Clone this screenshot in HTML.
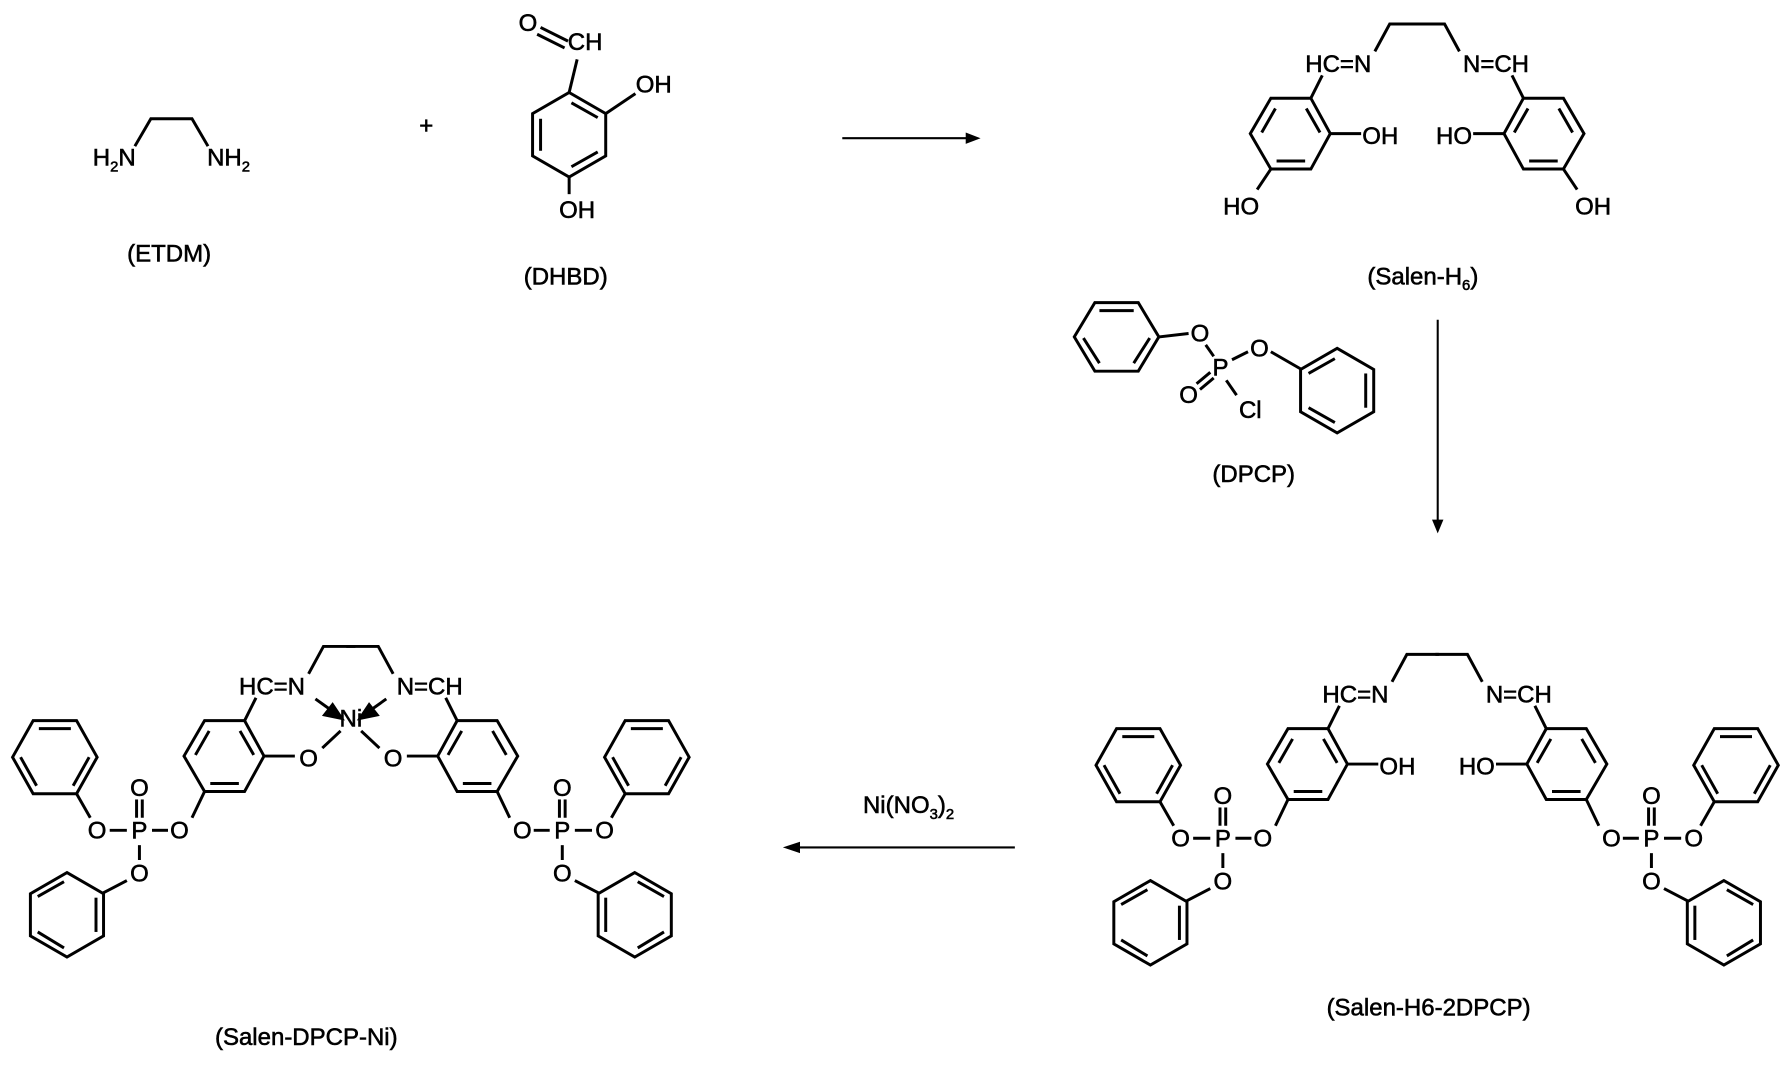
<!DOCTYPE html>
<html><head><meta charset="utf-8"><style>
html,body{margin:0;padding:0;background:#fff;}
svg{display:block;}
text{font-family:"Liberation Sans",Arial,sans-serif;font-size:21px;fill:#000;stroke:#000;stroke-width:0.5;text-anchor:middle;}
</style></head><body>
<svg width="1792" height="1069" viewBox="0 0 1568 936" preserveAspectRatio="none" xmlns="http://www.w3.org/2000/svg">
<defs>
<g id="core" fill="none" stroke="#000" stroke-width="2.6">
<polygon points="179,631 214,631 231,662 214,693 179,693 161,662"/>
<line x1="183" y1="640" x2="171" y2="661"/>
<line x1="210" y1="640" x2="222" y2="661"/>
<line x1="184" y1="686" x2="209" y2="686"/>
<line x1="214" y1="631" x2="224" y2="611"/>
<line x1="231" y1="662" x2="258" y2="662"/>
<polyline points="270,590 283,566 311,566"/>
</g>
<g id="phos" fill="none" stroke="#000" stroke-width="2.6">
<line x1="179" y1="693" x2="168" y2="716"/>
<line x1="147" y1="727" x2="133" y2="727"/>
<line x1="111" y1="727" x2="96" y2="727"/>
<line x1="119.5" y1="700" x2="119.5" y2="716"/>
<line x1="124.5" y1="700" x2="124.5" y2="716"/>
<line x1="122" y1="740" x2="122" y2="753"/>
<line x1="111" y1="771" x2="90" y2="782"/>
<line x1="67" y1="695" x2="79" y2="716"/>
<polygon points="29,631 67,631 85,663 67,695 29,695 11,663"/>
<line x1="34" y1="638" x2="62" y2="638"/>
<line x1="78" y1="663" x2="64" y2="688"/>
<line x1="18" y1="663" x2="32" y2="688"/>
<polygon points="58.6,764 90.6,782.5 90.6,819.5 58.6,838 26.6,819.5 26.6,782.5"/>
<line x1="33" y1="785" x2="56" y2="772"/>
<line x1="84" y1="786" x2="84" y2="816"/>
<line x1="33" y1="816" x2="56" y2="830"/>
</g>
<g id="niext" stroke="#000" stroke-width="2.6" fill="none">
<line x1="298" y1="640" x2="282" y2="655"/>
<line x1="276" y1="612" x2="290" y2="622"/>
<polygon points="299,629 284,626 291,617" fill="#000"/>
</g>
</defs>

<!-- ETDM -->
<polyline points="118,128 132,104 168,104 182,128" fill="none" stroke="#000" stroke-width="2.6"/>
<text x="100" y="145">H<tspan font-size="13" dy="5">2</tspan><tspan dy="-5">N</tspan></text>
<text x="200" y="145">NH<tspan font-size="13" dy="5">2</tspan></text>
<text x="148" y="229">(ETDM)</text>
<text x="373" y="117">+</text>

<!-- DHBD -->
<g fill="none" stroke="#000" stroke-width="2.6">
<polygon points="498,81 530,99.5 530,136.5 498,155 466,136.5 466,99.5"/>
<line x1="473" y1="104" x2="473" y2="132"/>
<line x1="500" y1="90" x2="523" y2="103"/>
<line x1="500" y1="146" x2="523" y2="133"/>
<line x1="498" y1="81" x2="505" y2="52"/>
<line x1="470" y1="30" x2="494" y2="42"/>
<line x1="473" y1="24" x2="497" y2="36"/>
<line x1="530" y1="99.5" x2="556" y2="82"/>
<line x1="498" y1="155" x2="498" y2="170"/>
</g>
<text x="462" y="27">O</text>
<text x="512" y="44">CH</text>
<text x="572" y="81">OH</text>
<text x="505" y="191">OH</text>
<text x="495" y="249">(DHBD)</text>

<!-- arrow 1 -->
<line x1="737" y1="121" x2="846" y2="121" stroke="#000" stroke-width="1.8"/>
<polygon points="845,116 858,121 845,126" fill="#000"/>

<!-- Salen-H6 -->
<use href="#core" transform="translate(933,-545)"/>
<use href="#core" transform="matrix(-1,0,0,1,1547,-545)"/>
<g stroke="#000" stroke-width="2.6"><line x1="1112" y1="148" x2="1100" y2="166"/><line x1="1368" y1="148" x2="1380" y2="166"/></g>
<text x="1171" y="63">HC=N</text>
<text x="1309" y="63">N=CH</text>
<text x="1192" y="126" style="text-anchor:start">OH</text>
<text x="1288" y="126" style="text-anchor:end">HO</text>
<text x="1086" y="188">HO</text>
<text x="1394" y="188">OH</text>
<text x="1245" y="249">(Salen-H<tspan font-size="13" dy="5">6</tspan><tspan dy="-5">)</tspan></text>

<!-- DPCP -->
<g fill="none" stroke="#000" stroke-width="2.6">
<polygon points="958,265 996,265 1014,295 996,325 958,325 940,295"/>
<line x1="962" y1="272" x2="992" y2="272"/>
<line x1="1006" y1="296" x2="992" y2="318"/>
<line x1="948" y1="296" x2="962" y2="318"/>
<line x1="1014" y1="295" x2="1040" y2="292"/>
<line x1="1055" y1="302" x2="1062" y2="312"/>
<line x1="1078" y1="315" x2="1092" y2="308"/>
<line x1="1112" y1="308" x2="1138" y2="323"/>
<polygon points="1170,305 1202,323.5 1202,360.5 1170,379 1138,360.5 1138,323.5"/>
<line x1="1145" y1="327" x2="1168" y2="314"/>
<line x1="1195" y1="327" x2="1195" y2="357"/>
<line x1="1145" y1="357" x2="1168" y2="370"/>
<line x1="1050" y1="341" x2="1062" y2="331"/>
<line x1="1047" y1="336" x2="1059" y2="326"/>
<line x1="1073" y1="333" x2="1082" y2="346"/>
</g>
<text x="1050" y="299">O</text>
<text x="1068" y="329">P</text>
<text x="1102" y="312">O</text>
<text x="1040" y="353">O</text>
<text x="1094" y="366">Cl</text>
<text x="1097" y="422">(DPCP)</text>

<!-- vertical arrow -->
<line x1="1258" y1="280" x2="1258" y2="456" stroke="#000" stroke-width="1.8"/>
<polygon points="1253,455 1258,467 1263,455" fill="#000"/>

<!-- Salen-H6-2DPCP -->
<use href="#core" transform="translate(948,7)"/>
<use href="#core" transform="matrix(-1,0,0,1,1567,7)"/>
<use href="#phos" transform="translate(948,7)"/>
<use href="#phos" transform="matrix(-1,0,0,1,1567,7)"/>
<text x="1186" y="615">HC=N</text>
<text x="1329" y="615">N=CH</text>
<text x="1207" y="678" style="text-anchor:start">OH</text>
<text x="1308" y="678" style="text-anchor:end">HO</text>
<text x="1033" y="741">O</text><text x="1070" y="741">P</text><text x="1105" y="741">O</text>
<text x="1070" y="704">O</text><text x="1070" y="779">O</text>
<text x="1482" y="741">O</text><text x="1445" y="741">P</text><text x="1410" y="741">O</text>
<text x="1445" y="704">O</text><text x="1445" y="779">O</text>
<text x="1250" y="889">(Salen-H6-2DPCP)</text>

<!-- Ni arrow -->
<line x1="888" y1="742" x2="699" y2="742" stroke="#000" stroke-width="1.8"/>
<polygon points="700,737 685,742 700,747" fill="#000"/>
<text x="795" y="712">Ni(NO<tspan font-size="13" dy="5">3</tspan><tspan dy="-5">)</tspan><tspan font-size="13" dy="5">2</tspan></text>

<!-- Salen-DPCP-Ni -->
<use href="#core"/>
<use href="#core" transform="matrix(-1,0,0,1,614,0)"/>
<use href="#phos"/>
<use href="#phos" transform="matrix(-1,0,0,1,614,0)"/>
<use href="#niext"/>
<use href="#niext" transform="matrix(-1,0,0,1,614,0)"/>
<text x="238" y="608">HC=N</text>
<text x="376" y="608">N=CH</text>
<text x="307" y="636">Ni</text>
<text x="270" y="671">O</text>
<text x="344" y="671">O</text>
<text x="85" y="734">O</text><text x="122" y="734">P</text><text x="157" y="734">O</text>
<text x="122" y="697">O</text><text x="122" y="772">O</text>
<text x="529" y="734">O</text><text x="492" y="734">P</text><text x="457" y="734">O</text>
<text x="492" y="697">O</text><text x="492" y="772">O</text>
<text x="268" y="915">(Salen-DPCP-Ni)</text>
</svg>
</body></html>
